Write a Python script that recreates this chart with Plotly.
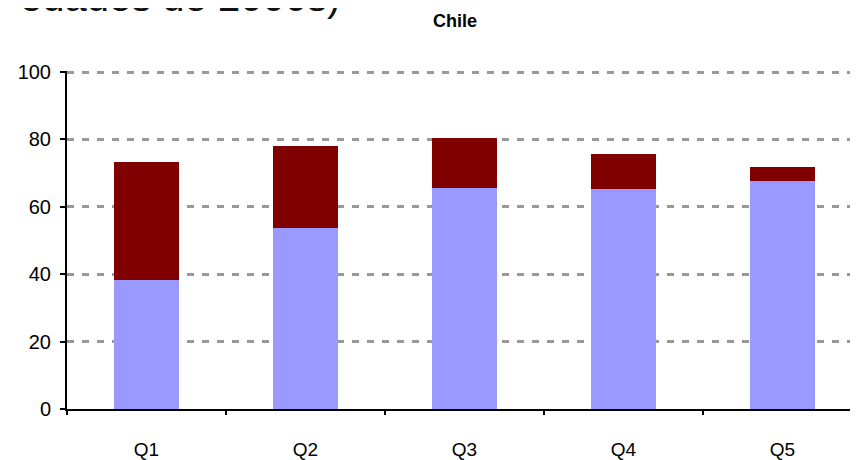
import plotly.graph_objects as go

# quintiles and the two stacked shares
quintiles = ['Q1', 'Q2', 'Q3', 'Q4', 'Q5']
base_vals = [38.3, 53.7, 65.6, 65.2, 67.6]
top_vals = [34.9, 24.3, 14.7, 10.4, 4.1]
y_ticks = [0, 20, 40, 60, 80, 100]

# the page puts the figure 8px in from the top-left corner
OFF = 8
W, H = 858 - OFF, 460 - OFF
L, R, T, B = 59, 0, 63, 51
pw, ph = W - L - R, H - T - B


def px(x):
    return (x - OFF - L) / pw


def py(y):
    return (H - B - (y - OFF)) / ph


fig = go.Figure([
    go.Bar(x=quintiles, y=base_vals, marker=dict(color='#9999FF', line=dict(width=0)),
           width=0.41, showlegend=False),
    go.Bar(x=quintiles, y=top_vals, marker=dict(color='#800000', line=dict(width=0)),
           width=0.41, showlegend=False),
])

fig.update_layout(
    template='none',
    width=W, height=H,
    barmode='stack',
    margin=dict(l=L, r=R, t=T, b=B, pad=0),
    plot_bgcolor='white', paper_bgcolor='white',
    font=dict(family='Liberation Sans, Arial, sans-serif', color='black'),
    annotations=[
        dict(text='<b>Chile</b>', x=px(455), y=py(21), xref='paper', yref='paper',
             xanchor='center', yanchor='middle', showarrow=False,
             font=dict(size=18, color='black')),
        dict(text='edades de 2000s)', x=px(342), y=py(-3), xref='paper', yref='paper',
             xanchor='right', yanchor='middle', showarrow=False,
             font=dict(size=40, color='#111111')),
    ],
)

fig.update_yaxes(
    range=[0, 100.3], tickvals=y_ticks, showgrid=True, gridcolor='#999999', gridwidth=2.5,
    griddash='7px,8px', showline=True, linecolor='black', linewidth=2,
    ticks='outside', ticklen=5, tickwidth=2, tickcolor='black', automargin=False,
    tickfont=dict(size=20), ticklabelstandoff=5, zeroline=False,
)
fig.update_xaxes(
    range=[-0.5, 4.475], showline=True, linecolor='black', linewidth=2, automargin=False,
    ticks='outside', tickson='boundaries', ticklen=4, tickwidth=2, tickcolor='black',
    tickfont=dict(size=19), ticklabelstandoff=22, showgrid=False,
)

fig.write_html("out.html")
